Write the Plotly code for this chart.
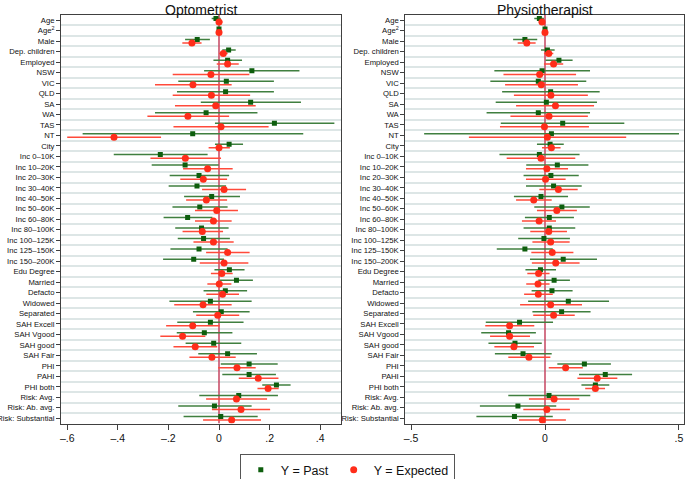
import plotly.graph_objects as go

categories = ["Age", "Age<sup>2</sup>", "Male", "Dep. children", "Employed", "NSW", "VIC", "QLD", "SA", "WA",
              "TAS", "NT", "City", "Inc 0–10K", "Inc 10–20K", "Inc 20–30K", "Inc 30–40K", "Inc 40–50K",
              "Inc 50–60K", "Inc 60–80K", "Inc 80–100K", "Inc 100–125K", "Inc 125–150K", "Inc 150–200K",
              "Edu Degree", "Married", "Defacto", "Widowed", "Separated", "SAH Excell", "SAH Vgood",
              "SAH good", "SAH Fair", "PHI", "PAHI", "PHI both", "Risk: Avg.", "Risk: Ab. avg.",
              "Risk: Substantial"]

# Optometrist, Y = Past
opt_past_est = [-0.012, 0.0, -0.086, 0.038, 0.034, 0.130, 0.029, 0.026, 0.125, -0.051, 0.219, -0.104, 0.040,
                -0.232, -0.134, -0.079, -0.087, -0.029, -0.076, -0.124, -0.069, -0.061, -0.079, -0.100,
                0.041, 0.069, 0.025, -0.034, 0.009, -0.034, -0.058, -0.021, 0.034, 0.119, 0.119, 0.227,
                0.078, -0.018, 0.007]
opt_past_lo = [-0.029, -0.003, -0.134, 0.013, -0.022, -0.059, -0.161, -0.166, -0.072, -0.253, -0.016, -0.539, -0.016,
               -0.416, -0.266, -0.195, -0.199, -0.138, -0.184, -0.219, -0.173, -0.163, -0.192, -0.221,
               -0.018, 0.003, -0.061, -0.196, -0.103, -0.165, -0.167, -0.132, -0.082, 0.007, 0.013, 0.171,
               -0.078, -0.161, -0.140]
opt_past_hi = [0.007, 0.003, -0.036, 0.066, 0.091, 0.318, 0.217, 0.217, 0.324, 0.152, 0.456, 0.333, 0.095,
               -0.045, -0.001, 0.040, 0.028, 0.083, 0.034, -0.026, 0.038, 0.043, 0.034, 0.020,
               0.101, 0.134, 0.111, 0.129, 0.121, 0.097, 0.053, 0.088, 0.150, 0.232, 0.225, 0.283,
               0.233, 0.129, 0.153]
# Optometrist, Y = Expected
opt_exp_est = [0.0, 0.0, -0.107, 0.017, 0.034, -0.032, -0.103, -0.030, -0.013, -0.123, 0.008, -0.415, 0.0,
               -0.133, -0.045, -0.062, 0.020, -0.050, -0.009, -0.022, -0.066, -0.022, 0.034, 0.020,
               0.011, 0.001, 0.014, -0.063, -0.005, -0.104, -0.144, -0.094, -0.028, 0.071, 0.155, 0.194,
               0.069, 0.087, 0.050]
opt_exp_lo = [-0.012, -0.003, -0.145, 0.0, -0.009, -0.183, -0.253, -0.183, -0.174, -0.283, -0.180, -0.600, -0.041,
              -0.271, -0.142, -0.153, -0.067, -0.130, -0.095, -0.095, -0.144, -0.101, -0.051, -0.076,
              -0.032, -0.046, -0.050, -0.177, -0.090, -0.209, -0.232, -0.180, -0.117, -0.003, 0.078, 0.152,
              -0.051, -0.028, -0.063]
opt_exp_hi = [0.014, 0.003, -0.069, 0.034, 0.078, 0.120, 0.050, 0.123, 0.145, 0.040, 0.196, -0.229, 0.043,
              0.008, 0.054, 0.032, 0.107, 0.032, 0.075, 0.050, 0.016, 0.058, 0.121, 0.116,
              0.054, 0.049, 0.079, 0.050, 0.080, 0.003, -0.054, -0.007, 0.066, 0.145, 0.235, 0.236,
              0.190, 0.202, 0.166]

# Physiotherapist, Y = Past
phy_past_est = [-0.021, 0.0, -0.075, 0.009, 0.052, -0.011, -0.025, 0.021, 0.005, -0.025, 0.066, 0.024, 0.019,
                -0.021, 0.046, 0.022, 0.032, -0.015, 0.063, 0.016, 0.016, -0.004, -0.075, 0.068,
                -0.017, 0.034, 0.026, 0.087, 0.062, -0.095, -0.136, -0.112, -0.082, 0.147, 0.225, 0.188,
                0.015, -0.101, -0.114]
phy_past_lo = [-0.040, -0.003, -0.119, -0.015, 0.002, -0.189, -0.204, -0.160, -0.184, -0.218, -0.165, -0.451, -0.030,
               -0.170, -0.070, -0.080, -0.071, -0.116, -0.040, -0.075, -0.080, -0.100, -0.180, -0.056,
               -0.073, -0.025, -0.050, -0.063, -0.047, -0.221, -0.238, -0.211, -0.187, 0.046, 0.127, 0.136,
               -0.137, -0.243, -0.256]
phy_past_hi = [-0.004, 0.003, -0.029, 0.036, 0.103, 0.168, 0.154, 0.204, 0.194, 0.168, 0.296, 0.500, 0.070,
               0.129, 0.162, 0.126, 0.137, 0.086, 0.167, 0.108, 0.113, 0.093, 0.029, 0.194,
               0.041, 0.093, 0.103, 0.239, 0.170, 0.030, -0.034, -0.012, 0.025, 0.246, 0.325, 0.240,
               0.169, 0.042, 0.029]
# Physiotherapist, Y = Expected
phy_exp_est = [-0.011, 0.0, -0.068, 0.014, 0.032, -0.020, -0.014, 0.022, 0.039, 0.015, -0.002, 0.009, 0.024,
               -0.015, 0.007, 0.002, 0.050, -0.042, 0.044, -0.022, 0.014, 0.021, 0.027, 0.040,
               -0.024, -0.026, -0.025, 0.021, 0.032, -0.132, -0.132, -0.116, -0.060, 0.077, 0.195, 0.188,
               0.034, 0.007, -0.010]
phy_exp_lo = [-0.024, -0.003, -0.102, -0.004, -0.004, -0.155, -0.149, -0.116, -0.108, -0.129, -0.168, -0.284, -0.011,
              -0.143, -0.071, -0.071, -0.021, -0.108, -0.030, -0.086, -0.055, -0.047, -0.051, -0.049,
              -0.066, -0.070, -0.078, -0.093, -0.044, -0.223, -0.205, -0.189, -0.137, 0.014, 0.121, 0.150,
              -0.060, -0.081, -0.097]
phy_exp_hi = [-0.001, 0.003, -0.035, 0.031, 0.068, 0.116, 0.123, 0.160, 0.183, 0.160, 0.164, 0.303, 0.058,
              0.113, 0.086, 0.077, 0.122, 0.025, 0.119, 0.041, 0.082, 0.092, 0.106, 0.129,
              0.017, 0.017, 0.029, 0.138, 0.111, -0.040, -0.056, -0.041, 0.020, 0.141, 0.270, 0.224,
              0.128, 0.093, 0.078]

panel_titles = ["Optometrist", "Physiotherapist"]
series_names = ["Y = Past", "Y = Expected"]
opt_ticks = [-0.6, -0.4, -0.2, 0, 0.2, 0.4]
opt_ticktext = ["–.6", "–.4", "–.2", "0", ".2", ".4"]
phy_ticks = [-0.5, 0, 0.5]
phy_ticktext = ["–.5", "0", ".5"]

GREEN_M = "#0d5e0d"
GREEN_L = "#3f7f3f"
RED_M = "#ff2d1a"
RED_L = "#ff4a3a"
ZERO = "#c9506a"
GRID = "#dde6e6"
FRAME = "#404040"
FONT = "Liberation Sans, Arial, sans-serif"

rows = list(range(len(categories)))
off = 0.17
ylim = [-0.5, len(categories) - 0.5]

fig = go.Figure()

panels = [
    ("x", "y", opt_past_est, opt_past_lo, opt_past_hi, opt_exp_est, opt_exp_lo, opt_exp_hi),
    ("x2", "y2", phy_past_est, phy_past_lo, phy_past_hi, phy_exp_est, phy_exp_lo, phy_exp_hi),
]
for k, (xa, ya, pe, pl, ph, ee, el, eh) in enumerate(panels):
    # reference line at zero
    fig.add_trace(go.Scatter(x=[0, 0], y=ylim, xaxis=xa, yaxis=ya, mode="lines",
                             line=dict(color=ZERO, width=1.6), showlegend=False, hoverinfo="skip"))
    fig.add_trace(go.Scatter(
        x=pe, y=[r - off for r in rows], xaxis=xa, yaxis=ya, mode="markers",
        name=series_names[0], showlegend=(k == 0),
        marker=dict(symbol="square", size=5, color=GREEN_M),
        error_x=dict(type="data", symmetric=False,
                     array=[h - e for h, e in zip(ph, pe)],
                     arrayminus=[e - l for e, l in zip(pe, pl)],
                     color=GREEN_L, thickness=1.5, width=0),
    ))
    fig.add_trace(go.Scatter(
        x=ee, y=[r + off for r in rows], xaxis=xa, yaxis=ya, mode="markers",
        name=series_names[1], showlegend=(k == 0),
        marker=dict(symbol="circle", size=7, color=RED_M),
        error_x=dict(type="data", symmetric=False,
                     array=[h - e for h, e in zip(eh, ee)],
                     arrayminus=[e - l for e, l in zip(ee, el)],
                     color=RED_L, thickness=1.5, width=0),
    ))

ydom = [1 - 423.5 / 479, 1 - 15 / 479]
yaxis_common = dict(
    range=[ylim[1], ylim[0]], tickmode="array", tickvals=rows, ticktext=categories,
    ticks="outside", ticklen=4, tickwidth=1, tickcolor=FRAME, showgrid=False, zeroline=False,
    showline=True, linecolor=FRAME, linewidth=1, mirror=True, automargin=False,
    tickfont=dict(family=FONT, size=7.7, color="#111"),
    minor=dict(tickmode="array", tickvals=[r + 0.5 for r in rows[:-1]], showgrid=True,
               gridcolor=GRID, gridwidth=1.5, ticks=""),
    domain=ydom,
)
xaxis_common = dict(
    ticks="outside", ticklen=5, tickwidth=1, tickcolor=FRAME, showgrid=False, zeroline=False,
    showline=True, linecolor=FRAME, linewidth=1, mirror=True, automargin=False,
    tickfont=dict(family=FONT, size=10.5, color="#111"), tickmode="array",
)

fig.update_layout(
    width=685, height=479, margin=dict(l=0, r=0, t=0, b=0, autoexpand=False),
    paper_bgcolor="white", plot_bgcolor="white",
    font=dict(family=FONT, color="#111"),
    xaxis=dict(xaxis_common, domain=[61 / 685, 340.7 / 685], range=[-0.6245, 0.481],
               tickvals=opt_ticks, ticktext=opt_ticktext, anchor="y"),
    yaxis=dict(yaxis_common, anchor="x"),
    xaxis2=dict(xaxis_common, domain=[405.3 / 685, 684 / 685], range=[-0.5213, 0.5187],
                tickvals=phy_ticks, ticktext=phy_ticktext, anchor="y2"),
    yaxis2=dict(yaxis_common, anchor="x2"),
    showlegend=True,
    legend=dict(orientation="h", x=0.507, xanchor="center", y=1 - 454 / 479, yanchor="top",
                bordercolor="#555", borderwidth=1, font=dict(family=FONT, size=12.5, color="#111"),
                traceorder="normal", itemwidth=30),
    annotations=[
        dict(text=panel_titles[0], x=(61 + 340.7) / 2 / 685, y=1, xref="paper", yref="paper",
             xanchor="center", yanchor="top", showarrow=False, font=dict(family=FONT, size=14, color="#111")),
        dict(text=panel_titles[1], x=(405.3 + 684) / 2 / 685, y=1, xref="paper", yref="paper",
             xanchor="center", yanchor="top", showarrow=False, font=dict(family=FONT, size=14, color="#111")),
    ],
)

fig.write_html("out.html", config={"displayModeBar": False},
               post_script="document.body.style.margin='0';document.body.style.overflow='hidden';")
